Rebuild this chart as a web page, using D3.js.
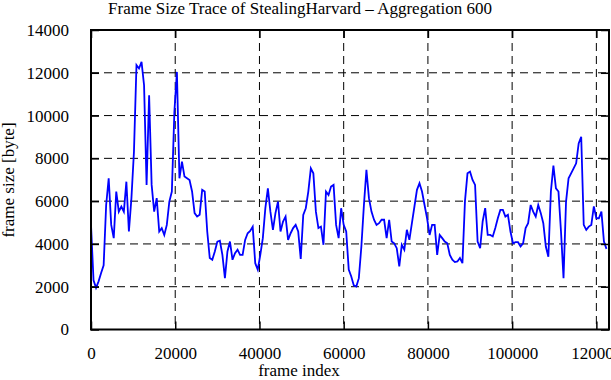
<!DOCTYPE html>
<html>
<head>
<meta charset="utf-8">
<script src="https://cdn.jsdelivr.net/npm/d3@7"></script>
<style>
  body { margin: 0; background: #fff; }
  svg text { font-family: "Liberation Serif", "DejaVu Serif", serif; fill: #000; }
</style>
</head>
<body>
<div id="chart"></div>
<script>
// Frame size trace, one value every 600 frames (aggregation 600)
const aggregation = 600
const frameSizes = [
  4900, 2300, 1950, 2250, 2640, 3000, 5820, 7070, 4890, 4270,
  6450, 5510, 5750, 5510, 6910, 4580, 6140, 8310, 12360, 12200,
  12510, 11420, 6760, 10950, 6760, 5510, 6140, 4580, 4740, 4420,
  4890, 5980, 6450, 10180, 12040, 7070, 7850, 7150, 7070, 6990,
  6450, 5440, 5280, 5360, 6530, 6450, 4580, 3340, 3260, 3650,
  4110, 4150, 3490, 2400, 3650, 4110, 3260, 3570, 3730, 3490,
  3490, 4190, 4500, 4610, 4810, 3100, 2800, 3490, 4270, 5670,
  6600, 5510, 4660, 5440, 5980, 4580, 5050, 5280, 4190, 4500,
  4740, 4890, 4580, 3300, 5360, 5670, 6450, 7530, 7300, 5510,
  4740, 4810, 3960, 6450, 6290, 6680, 6760, 4890, 4270, 5670,
  4890, 4580, 2800, 2480, 2060, 2010, 2400, 3880, 5800, 7460,
  6140, 5510, 5130, 4890, 4970, 5130, 5130, 4270, 5130, 4110,
  4030, 3800, 2950, 3960, 3730, 4660, 4190, 4970, 5750, 6530,
  6840, 6450, 5820, 5200, 4420, 4890, 4890, 3490, 4420, 4270,
  4110, 4030, 3490, 3260, 3150, 3180, 3340, 3100, 6000, 7300,
  7380, 6990, 6760, 4110, 3800, 5050, 5670, 4420, 4420, 4350,
  4740, 5200, 5590, 5590, 5280, 5360, 4580, 4030, 4080, 4080,
  3880, 4030, 4740, 4970, 5820, 5510, 5280, 5820, 5440, 4970,
  3880, 3400, 6450, 7660, 6600, 6450, 4580, 2400, 5980, 7070,
  7300, 7530, 7770, 8700, 9010, 4890, 4660, 4810, 4890, 5750,
  5200, 5200, 5510, 4110, 3770
]
const xTicks = [0, 20000, 40000, 60000, 80000, 100000, 120000]
const yTicks = [0, 2000, 4000, 6000, 8000, 10000, 12000, 14000]
const xMax = 123000
const yMax = 14000

const titleText = 'Frame Size Trace of StealingHarvard \u2013 Aggregation 600'
const xLabel = 'frame index'
const yLabel = 'frame size [byte]'

const data = frameSizes.map((v, i) => ({ frame: i * aggregation, size: v }))

const totalW = 611, totalH = 380
const margin = { top: 30, right: 2, bottom: 50.5, left: 91 }
const width = totalW - margin.left - margin.right
const height = totalH - margin.top - margin.bottom

const svg = d3.select('#chart').append('svg')
  .attr('width', totalW)
  .attr('height', totalH)

const g = svg.append('g')
  .attr('transform', `translate(${margin.left}, ${margin.top})`)

const x = d3.scaleLinear().domain([0, xMax]).range([0, width])
const y = d3.scaleLinear().domain([0, yMax]).range([height, 0])

// dashed grid
g.append('g').selectAll('line')
  .data(yTicks.filter(d => d > 0 && d < yMax))
  .enter().append('line')
    .attr('x1', 0).attr('x2', width)
    .attr('y1', d => y(d)).attr('y2', d => y(d))
    .attr('stroke', '#000').attr('stroke-width', 1)
    .attr('stroke-dasharray', '8,5')

g.append('g').selectAll('line')
  .data(xTicks.filter(d => d > 0))
  .enter().append('line')
    .attr('x1', d => x(d)).attr('x2', d => x(d))
    .attr('y1', 0).attr('y2', height)
    .attr('stroke', '#000').attr('stroke-width', 1)
    .attr('stroke-dasharray', '8,5')

// trace
const line = d3.line()
  .x(d => x(d.frame))
  .y(d => y(d.size))

g.append('path')
  .datum(data)
  .attr('d', line)
  .attr('fill', 'none')
  .attr('stroke', '#0000ff')
  .attr('stroke-width', 1.8)

// axes, ticks pointing inward on all four sides
const styleAxis = sel => {
  sel.select('.domain').remove()
  sel.selectAll('.tick line').attr('stroke', '#000').attr('stroke-width', 1.5)
  sel.selectAll('.tick text').style('font-size', '17px')
}

g.append('g')
  .attr('transform', `translate(0, ${height})`)
  .call(d3.axisBottom(x).tickValues(xTicks).tickSizeInner(-8).tickSizeOuter(0).tickPadding(17).tickFormat(d3.format('d')))
  .call(styleAxis)

g.append('g')
  .call(d3.axisTop(x).tickValues(xTicks).tickSizeInner(-8).tickSizeOuter(0).tickFormat(''))
  .call(styleAxis)

g.append('g')
  .call(d3.axisLeft(y).tickValues(yTicks).tickSizeInner(-8).tickSizeOuter(0).tickPadding(22).tickFormat(d3.format('d')))
  .call(styleAxis)

g.append('g')
  .attr('transform', `translate(${width}, 0)`)
  .call(d3.axisRight(y).tickValues(yTicks).tickSizeInner(-8).tickSizeOuter(0).tickFormat(''))
  .call(styleAxis)

// frame
g.append('rect')
  .attr('x', 0).attr('y', 0)
  .attr('width', width).attr('height', height)
  .attr('fill', 'none')
  .attr('stroke', '#000')
  .attr('stroke-width', 2)

svg.append('text')
  .attr('x', 300).attr('y', 14)
  .attr('text-anchor', 'middle')
  .style('font-size', '17px')
  .text(titleText)

svg.append('text')
  .attr('x', 299).attr('y', 376)
  .attr('text-anchor', 'middle')
  .style('font-size', '17px')
  .text(xLabel)

svg.append('text')
  .attr('transform', 'translate(14, 180) rotate(-90)')
  .attr('text-anchor', 'middle')
  .style('font-size', '17px')
  .text(yLabel)
</script>
</body>
</html>
